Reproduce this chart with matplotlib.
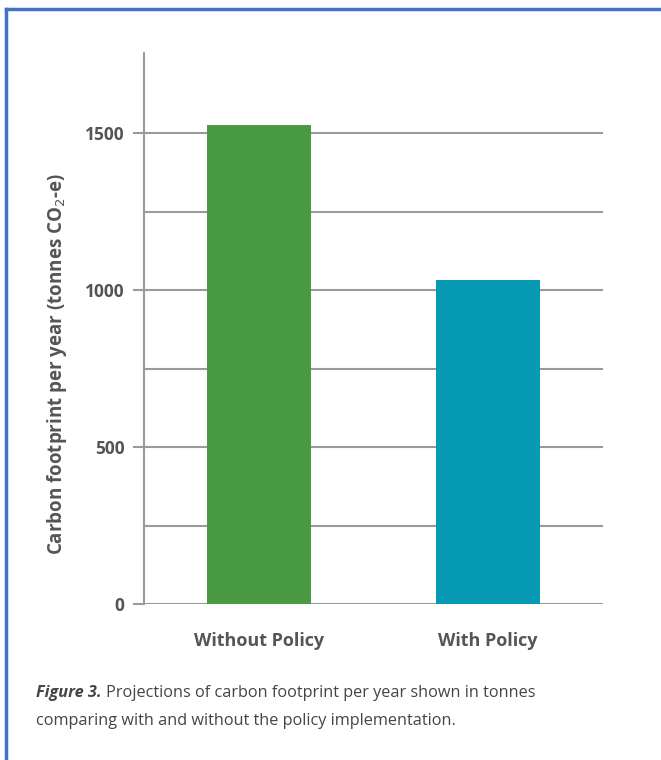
import matplotlib
matplotlib.use("Agg")
import matplotlib.pyplot as plt
from matplotlib.lines import Line2D

# data
categories = ["Without Policy", "With Policy"]
footprint = [1527, 1032]
bar_colors = ["#4a9a44", "#069ab5"]
major_ticks = [0, 500, 1000, 1500]
minor_ticks = [250, 750, 1250]

plt.rcParams["font.family"] = ["Open Sans", "DejaVu Sans"]

W, H = 661, 760
fig = plt.figure(figsize=(W / 100, H / 100), dpi=100)
fig.patch.set_facecolor("white")

# axes box in pixel coords of the reference
x0, x1, y0, y1 = 144, 603, 604, 53
ax = fig.add_axes([x0 / W, 1 - y0 / H, (x1 - x0) / W, (y0 - y1) / H])

grid_col = "#9a9a9a"
text_col = "#555555"

ax.bar(range(len(categories)), footprint, width=0.455, color=bar_colors, zorder=3)
ax.set_xlim(-0.5, 1.5)
ax.set_ylim(0, 1755)

ax.set_yticks(major_ticks)
ax.set_yticks(minor_ticks, minor=True)
ax.grid(axis="y", which="both", color=grid_col, linewidth=1.5, zorder=1)
ax.tick_params(axis="y", which="major", length=8, width=1.5, color=grid_col,
               pad=6, labelsize=12.5, labelcolor=text_col)
ax.tick_params(axis="y", which="minor", length=0)
for lab in ax.get_yticklabels():
    lab.set_fontweight("bold")

ax.set_xticks(range(len(categories)))
ax.set_xticklabels(categories, fontweight="bold", fontsize=13, color=text_col)
ax.tick_params(axis="x", length=0, pad=20)

for side in ["top", "right", "bottom"]:
    ax.spines[side].set_visible(False)
ax.spines["left"].set_color(grid_col)
ax.spines["left"].set_linewidth(1.5)

# y label sits a bit below the axes centre in the reference
fig.text(57 / W, 1 - 364 / H, "Carbon footprint per year (tonnes CO$_2$-e)",
         fontsize=13.5, fontweight="bold", color=text_col, rotation=90,
         ha="center", va="center")

# caption, bold italic lead-in followed by plain text
cap_col = "#444444"
lead = fig.text(36 / W, 1 - 693 / H, "Figure 3.", fontsize=11.7, fontweight="bold",
                fontstyle="italic", color=cap_col, va="center")
fig.canvas.draw()
bb = lead.get_window_extent()
fig.text((bb.x1 + 4) / W, 1 - 693 / H,
         "Projections of carbon footprint per year shown in tonnes",
         fontsize=11.7, color=cap_col, va="center")
fig.text(36 / W, 1 - 721 / H,
         "comparing with and without the policy implementation.",
         fontsize=11.7, color=cap_col, va="center")

# blue frame on top and left edges
frame_col = "#4472c4"
fig.add_artist(Line2D([5.5 / W, 1], [1 - 8.5 / H, 1 - 8.5 / H],
                      transform=fig.transFigure, color=frame_col, linewidth=2.5))
fig.add_artist(Line2D([5.5 / W, 5.5 / W], [0, 1 - 8.5 / H],
                      transform=fig.transFigure, color=frame_col, linewidth=2.5))

fig.savefig("out.png", dpi=100)
